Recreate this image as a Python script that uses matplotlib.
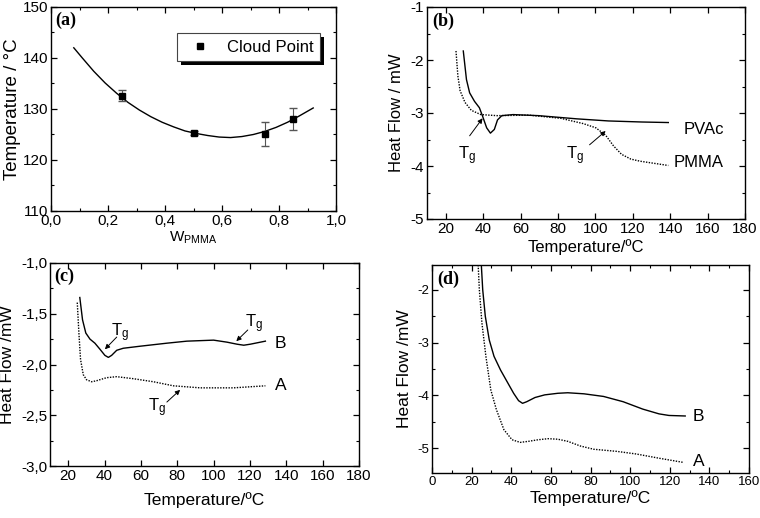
import numpy as np
import matplotlib
matplotlib.use('Agg')
import matplotlib.pyplot as plt
from matplotlib.ticker import MultipleLocator, FuncFormatter
from matplotlib.lines import Line2D
from matplotlib.patches import Rectangle

plt.rcParams['font.family'] = ['Liberation Sans', 'DejaVu Sans']
plt.rcParams['mathtext.fontset'] = 'custom'
plt.rcParams['mathtext.rm'] = 'Liberation Sans'
plt.rcParams['mathtext.it'] = 'Liberation Sans'
plt.rcParams['mathtext.default'] = 'regular'
plt.rcParams['axes.unicode_minus'] = False

# (a) cloud point vs PMMA weight fraction
w_pmma = [0.25, 0.50, 0.75, 0.85]
cloud_t = [132.6, 125.3, 125.1, 128.0]
cloud_err = [1.1, 0.4, 2.3, 2.2]
fit_w = [0.08, 0.11, 0.15, 0.19, 0.23, 0.27, 0.31, 0.35, 0.39, 0.43, 0.47, 0.51, 0.55, 0.59,
         0.63, 0.67, 0.71, 0.75, 0.79, 0.83, 0.87, 0.92]
fit_t = [142.0, 140.0, 137.4, 135.1, 133.1, 131.3, 129.8, 128.5, 127.4, 126.5, 125.7, 125.2, 124.8, 124.5,
         124.4, 124.6, 125.0, 125.6, 126.4, 127.4, 128.6, 130.2]

# (b) pure polymers
pvac_T = [29.4, 31.1, 32.8, 35.4, 38.0, 39.7, 41.9, 43.9, 46.0, 47.7, 50.0, 56.0, 69.6, 90.0, 107.0, 125.0, 139.0]
pvac_H = [-1.83, -2.37, -2.62, -2.78, -2.90, -3.06, -3.28, -3.38, -3.31, -3.13, -3.05, -3.03, -3.05, -3.11, -3.15, -3.17, -3.18]
pmma_T = [25.5, 26.5, 27.7, 30.3, 33.7, 38.8, 47.4, 64.4, 81.5, 93.5, 100.3, 105.5, 109.7, 114.0, 119.0, 124.0, 139.0]
pmma_H = [-1.83, -2.30, -2.58, -2.80, -2.95, -3.03, -3.05, -3.04, -3.10, -3.20, -3.28, -3.42, -3.62, -3.78, -3.87, -3.91, -3.99]

# (c) blends
c_B_T = [26.4, 27.9, 29.7, 32.0, 34.7, 37.5, 40.2, 42.1, 43.9, 46.7, 50.3, 59.5, 74.3, 85.3, 100.0, 107.4, 112.9, 116.6, 120.2, 128.5]
c_B_H = [-1.34, -1.56, -1.69, -1.75, -1.79, -1.85, -1.91, -1.93, -1.91, -1.86, -1.84, -1.82, -1.79, -1.77, -1.76, -1.78, -1.80, -1.81, -1.80, -1.77]
c_A_T = [25.0, 25.9, 26.8, 28.3, 30.1, 32.9, 35.6, 41.1, 46.7, 55.9, 66.9, 77.9, 85.3, 92.6, 111.0, 128.5]
c_A_H = [-1.39, -1.69, -1.95, -2.10, -2.15, -2.17, -2.16, -2.13, -2.12, -2.14, -2.17, -2.21, -2.22, -2.23, -2.23, -2.21]

# (d) blends
d_B_T = [24.9, 25.6, 26.9, 28.9, 31.3, 34.6, 37.9, 41.2, 43.7, 45.7, 47.8, 52.0, 56.9, 63.5, 68.5, 76.7, 86.6, 96.5, 106.4, 114.6, 119.6, 127.8]
d_B_H = [-1.53, -2.00, -2.50, -2.95, -3.26, -3.52, -3.74, -3.96, -4.10, -4.15, -4.12, -4.04, -3.99, -3.96, -3.95, -3.97, -4.02, -4.12, -4.26, -4.35, -4.38, -4.39]
d_A_T = [23.3, 23.9, 25.2, 27.2, 29.7, 32.5, 36.3, 40.4, 44.5, 48.7, 53.6, 58.6, 63.5, 68.5, 75.0, 81.6, 93.2, 103.1, 114.6, 127.0]
d_A_H = [-1.53, -2.00, -2.63, -3.26, -3.90, -4.27, -4.65, -4.84, -4.89, -4.87, -4.84, -4.82, -4.83, -4.87, -4.96, -5.02, -5.06, -5.11, -5.19, -5.27]

comma1 = FuncFormatter(lambda v, p: ('%.1f' % v).replace('.', ','))
intfmt = FuncFormatter(lambda v, p: '%d' % round(v))


def style_axes(ax, xmaj, ymaj, xmin=None, ymin=None, size=10):
    ax.xaxis.set_major_locator(MultipleLocator(xmaj))
    ax.yaxis.set_major_locator(MultipleLocator(ymaj))
    if xmin:
        ax.xaxis.set_minor_locator(MultipleLocator(xmin))
    if ymin:
        ax.yaxis.set_minor_locator(MultipleLocator(ymin))
    ax.tick_params(which='both', direction='in', top=True, right=True, labelsize=size, pad=2)
    ax.tick_params(which='major', length=4, width=0.9)
    ax.tick_params(which='minor', length=2.5, width=0.8)
    for s in ax.spines.values():
        s.set_linewidth(1.0)


def panel_tag(ax, txt):
    ax.text(0.015, 0.975, txt, transform=ax.transAxes, ha='left', va='top',
            fontsize=13, fontweight='bold', family=['Liberation Serif'])


def arrow(ax, tail, head):
    ax.annotate('', xy=head, xytext=tail,
                arrowprops=dict(arrowstyle='-|>', lw=0.7, color='k', mutation_scale=7,
                                shrinkA=0, shrinkB=0))


fig = plt.figure(figsize=(7.6, 5.18), dpi=100)

# ---- (a)
ax_a = fig.add_axes([51 / 760, 1 - 211 / 518, 285 / 760, 204 / 518])
ax = ax_a
ax.plot(fit_w, fit_t, color='k', lw=1.0)
ax.errorbar(w_pmma, cloud_t, yerr=cloud_err, fmt='none', ecolor='#555555', elinewidth=0.8, capsize=3)
ax.plot(w_pmma, cloud_t, 's', color='k', ms=4)
ax.set_xlim(0, 1)
ax.set_ylim(110, 150)
style_axes(ax, 0.2, 10, 0.1, 5, size=11)
ax.xaxis.set_major_formatter(comma1)
ax.set_ylabel('Temperature / \u00b0C', fontsize=13.5)
ax.set_xlabel('W$_{PMMA}$', fontsize=11)
ax.yaxis.set_label_coords(-0.105, 0.5)
ax.xaxis.set_label_coords(0.5, -0.09)
leg = ax.legend([Line2D([], [], marker='s', ls='none', color='k', ms=4)], ['Cloud Point'],
                loc='upper right', bbox_to_anchor=(0.944, 0.873), fontsize=12,
                fancybox=False, edgecolor='#444444', framealpha=1,
                handlelength=2.0, handletextpad=0.6, borderpad=0.4, borderaxespad=0)
leg.get_frame().set_linewidth(0.8)
panel_tag(ax, '(a)')

# ---- (b)
ax = fig.add_axes([427 / 760, 1 - 219 / 518, 318 / 760, 212 / 518])
ax.plot(pvac_T, pvac_H, color='k', lw=1.0)
ax.plot(pmma_T, pmma_H, color='k', lw=1.0, ls=(0, (1, 1)))
ax.set_xlim(10, 180)
ax.set_ylim(-5, -1)
style_axes(ax, 20, 1, None, 0.5, size=11)
ax.yaxis.set_major_formatter(intfmt)
ax.set_ylabel('Heat Flow / mW', fontsize=12)
ax.set_xlabel('Temperature/\u00baC', fontsize=12)
ax.yaxis.set_label_coords(-0.072, 0.5)
ax.xaxis.set_label_coords(0.5, -0.094)
ax.text(31.5, -3.8, 'T$_g$', fontsize=12, ha='center', va='center')
arrow(ax, (32.8, -3.43), (39.7, -3.1))
ax.text(89.2, -3.8, 'T$_g$', fontsize=12, ha='center', va='center')
arrow(ax, (96.9, -3.6), (105.5, -3.34))
ax.text(147, -3.31, 'PVAc', fontsize=12, ha='left', va='center')
ax.text(142, -3.94, 'PMMA', fontsize=12, ha='left', va='center')
panel_tag(ax, '(b)')

# ---- (c)
ax = fig.add_axes([50 / 760, 1 - 466 / 518, 309 / 760, 203 / 518])
ax.plot(c_B_T, c_B_H, color='k', lw=1.0)
ax.plot(c_A_T, c_A_H, color='k', lw=1.0, ls=(0, (1, 1)))
ax.set_xlim(10, 180)
ax.set_ylim(-3, -1)
style_axes(ax, 20, 0.5, None, 0.25, size=11)
ax.yaxis.set_major_formatter(comma1)
ax.set_ylabel('Heat Flow /mW', fontsize=12.5)
ax.set_xlabel('Temperature/\u00baC', fontsize=12.5)
ax.yaxis.set_label_coords(-0.113, 0.5)
ax.xaxis.set_label_coords(0.5, -0.13)
ax.text(48.5, -1.69, 'T$_g$', fontsize=12, ha='center', va='center')
arrow(ax, (46.7, -1.73), (40.2, -1.85))
ax.text(122.4, -1.6, 'T$_g$', fontsize=12, ha='center', va='center')
arrow(ax, (118.8, -1.66), (112.5, -1.77))
ax.text(68.7, -2.43, 'T$_g$', fontsize=12, ha='center', va='center')
arrow(ax, (74.3, -2.37), (81.6, -2.25))
ax.text(133.5, -1.79, 'B', fontsize=12.5, ha='left', va='center')
ax.text(133.5, -2.21, 'A', fontsize=12.5, ha='left', va='center')
panel_tag(ax, '(c)')

# ---- (d)
ax = fig.add_axes([432 / 760, 1 - 473 / 518, 317 / 760, 208 / 518])
ax.plot(d_B_T, d_B_H, color='k', lw=1.0)
ax.plot(d_A_T, d_A_H, color='k', lw=1.0, ls=(0, (1, 1)))
ax.set_xlim(0, 160)
ax.set_ylim(-5.47, -1.53)
style_axes(ax, 20, 1, 10, 0.5, size=9.5)
ax.yaxis.set_major_formatter(intfmt)
ax.set_ylabel('Heat Flow /mW', fontsize=12.5)
ax.set_xlabel('Temperature/\u00baC', fontsize=12.5)
ax.yaxis.set_label_coords(-0.063, 0.5)
ax.xaxis.set_label_coords(0.5, -0.082)
ax.text(131.5, -4.4, 'B', fontsize=12.5, ha='left', va='center')
ax.text(131.5, -5.25, 'A', fontsize=12.5, ha='left', va='center')
panel_tag(ax, '(d)')

# black drop shadow behind the legend box of (a)
fig.canvas.draw()
bb = leg.get_window_extent().transformed(fig.transFigure.inverted())
dx, dy = 4 / 760, 4 / 518
fig.patches.append(Rectangle((bb.x0 + dx, bb.y0 - dy), bb.width, bb.height,
                             transform=fig.transFigure, facecolor='k', edgecolor='none', zorder=0))
ax_a.set_zorder(1)
ax_a.patch.set_alpha(0)

fig.savefig('out.png', dpi=100)
